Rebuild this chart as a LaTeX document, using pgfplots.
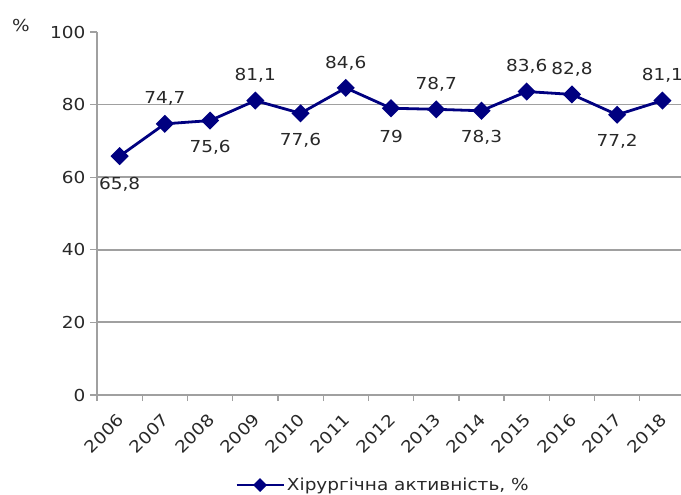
\documentclass[border=0pt]{standalone}
\usepackage{pgfplots}
\pgfplotsset{compat=1.18}
\usepackage{pgfplotstable}
\usepackage{fontspec}
\setmainfont{DejaVu Sans}[FakeStretch=1.12]
\definecolor{navy}{RGB}{0,0,128}
\definecolor{axgray}{RGB}{160,160,160}
\definecolor{txt}{RGB}{40,40,40}
\pgfplotstableread{
x y off
0 65.8 -28
1 74.7 25
2 75.6 -27
3 81.1 25
4 77.6 -27
5 84.6 25
6 79 -28
7 78.7 25
8 78.3 -27
9 83.6 25
10 82.8 25
11 77.2 -27
12 81.1 25
}\datatable
\newcommand{\chf}{\fontsize{16.5bp}{19bp}\selectfont}
\begin{document}
\chf
\begin{tikzpicture}
\begin{axis}[
  at={(97bp,100bp)}, anchor=south west,
  scale only axis, width=583.5bp, height=363bp,
  xmin=-0.5, xmax=12.4, ymin=0, ymax=100,
  clip=false,
  axis x line*=bottom, axis y line*=left,
  axis line style={axgray, line width=1.8bp, -},
  xtick={0,...,12},
  xticklabels={2006,2007,2008,2009,2010,2011,2012,2013,2014,2015,2016,2017,2018},
  major x tick style={draw=none},
  minor xtick={-0.5,0.5,...,11.5},
  minor x tick style={axgray, line width=1.3bp},
  ytick={0,20,...,100},
  y tick style={axgray, line width=1.3bp},
  tick align=outside, major tick length=7bp, minor tick length=6bp,
  extra y ticks={20,40,60,80}, extra y tick labels={},
  extra y tick style={grid=major},
  major grid style={axgray, line width=1.8bp},
  /pgf/number format/assume math mode=true,
  /pgf/number format/use comma,
  ticklabel style={text=txt, font=\chf},
  xticklabel style={xshift=2bp, yshift=-14bp, rotate=45, anchor=east, inner sep=1pt},
  yticklabel style={xshift=1bp},
  legend style={at={(0.49,-0.248)}, anchor=center, draw=none, fill=none,
    font=\chf, text=txt},
  legend image code/.code={\draw[mark repeat=2, mark phase=2, #1, mark options={scale=0.7, rotate=45}]
    plot coordinates {(0bp,0bp) (23.5bp,0bp) (47bp,0bp)};},
]
\addplot[navy, line width=2.8bp, mark=square*, mark size=5bp,
  mark options={rotate=45, solid},
  nodes near coords={\pgfmathprintnumber[fixed, precision=1, use comma]{\pgfplotspointmeta}},
  point meta=explicit,
  visualization depends on={\thisrow{off} \as \off},
  every node near coord/.append style={anchor=center, yshift=\off, text=txt, font=\chf},
] table[x=x, y=y, meta=y] {\datatable};
\addlegendentry{Хірургічна активність, \%}
\end{axis}
\node[text=txt, font=\chf] at (21bp,470bp) {\%};
\pgfresetboundingbox
\useasboundingbox (0bp,0bp) rectangle (681bp,495bp);
\end{tikzpicture}
\end{document}
